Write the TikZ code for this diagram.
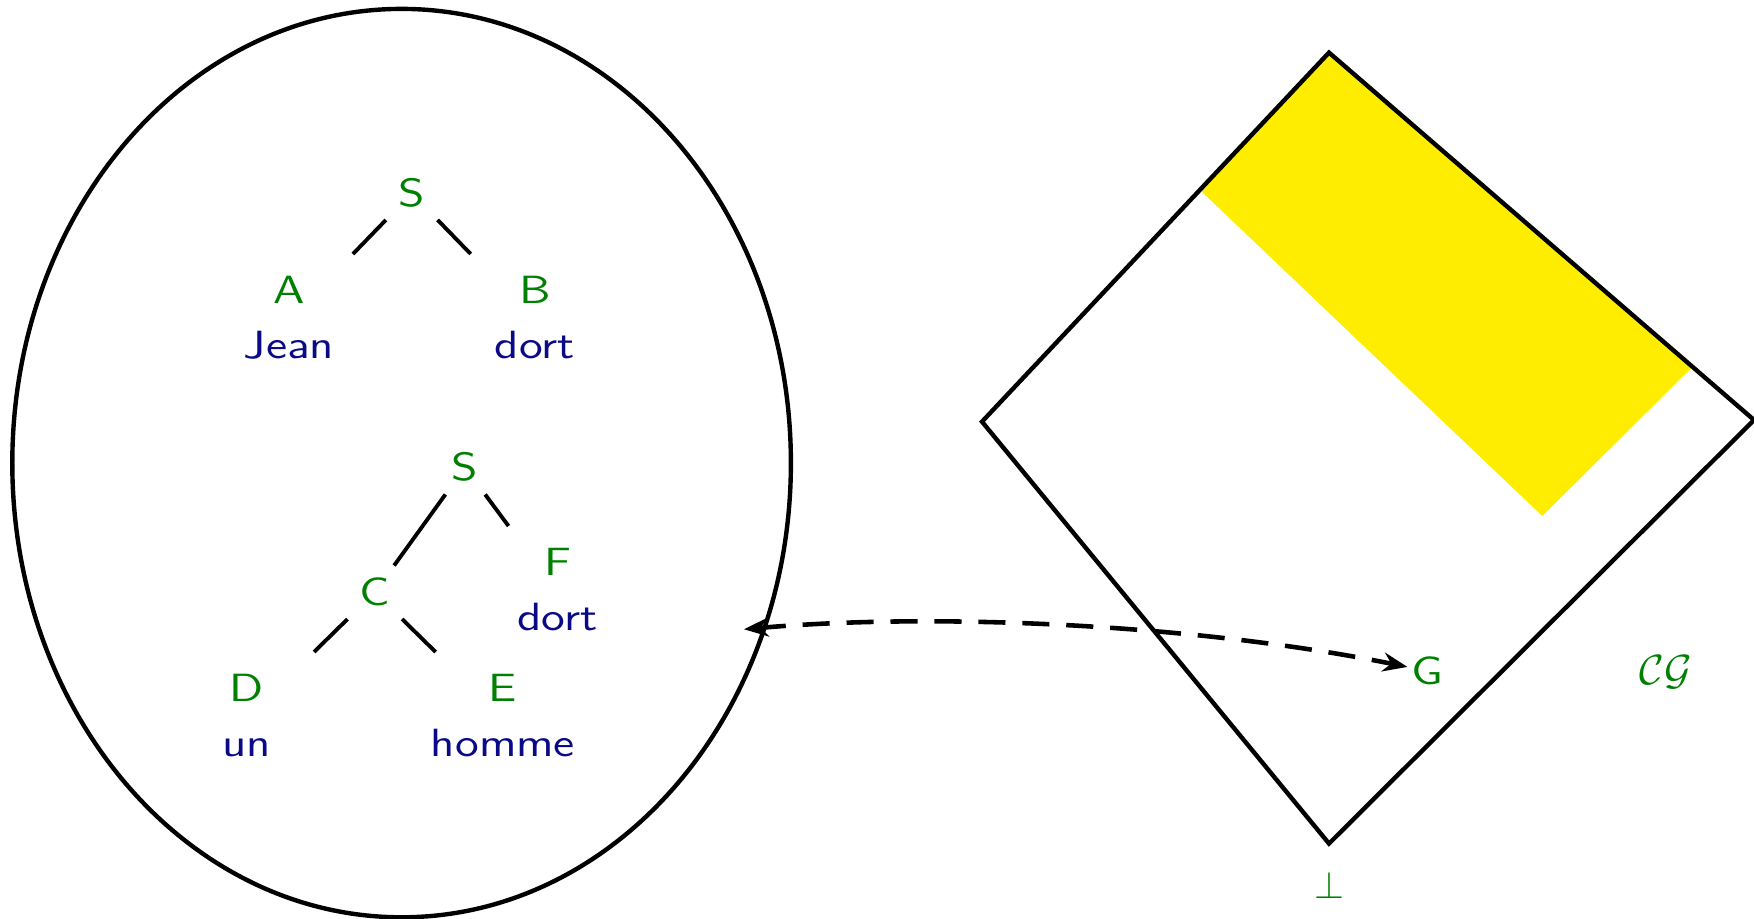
\documentclass[tikz,border=0pt]{standalone}
\usepackage{graphicx}
\usetikzlibrary{arrows.meta}
\definecolor{tgreen}{RGB}{0,128,0}
\definecolor{tblue}{RGB}{10,10,135}
\definecolor{tyellow}{RGB}{255,237,0}
\newcommand\wx[1]{\scalebox{1.23}[1]{#1}}
\newcommand\tfont{\fontsize{11.2pt}{15.4pt}\selectfont\sffamily}
\newcommand\topstrut{\rule{0pt}{10.6pt}}
\newcommand\botstrut{\rule[-4.4pt]{0pt}{0pt}}
\begin{document}
\begin{tikzpicture}[x=0.01cm, y=-0.01cm,
  lab/.style={font=\tfont, text=tgreen, inner sep=3.41pt},
  pair/.style={font=\tfont, align=center, inner sep=3.41pt, minimum width=45pt, anchor=north},
  branch/.style={line width=1.1pt},
  frame/.style={line width=1.25pt, line join=miter},
  link/.style={line width=1.3pt, dash pattern=on 7.7pt off 4.8pt,
    {Stealth[length=7pt,width=5.4pt,inset=2.3pt]}-{Stealth[length=7pt,width=5.4pt,inset=2.3pt]}}
]
\useasboundingbox (0,0) rectangle (1754,919);

% container ellipse
\draw[frame] (401.6,463.1) ellipse [x radius=389.3, y radius=454.2];

% first tree
\node[lab] (s1) at (411.7,193.3) {\wx{S}};
\node[pair] (na) at (289,254) {{\color{tgreen}\topstrut\wx{A}}\\{\color{tblue}\wx{Jean}\botstrut}};
\node[pair] (nb) at (535,254) {{\color{tgreen}\topstrut\wx{B}}\\{\color{tblue}\wx{dort}\botstrut}};
\draw[branch] (s1) -- (na);
\draw[branch] (s1) -- (nb);

% second tree
\node[lab] (s2) at (465,467.3) {\wx{S}};
\node[lab] (c) at (374.8,592.3) {\wx{C}};
\node[pair] (nf) at (557.5,526) {{\color{tgreen}\topstrut\wx{F}}\\{\color{tblue}\wx{dort}\botstrut}};
\node[pair] (nd) at (246.7,652) {{\color{tgreen}\topstrut\wx{D}}\\{\color{tblue}\wx{un}\botstrut}};
\node[pair] (ne) at (503,652) {{\color{tgreen}\topstrut\wx{E}}\\{\color{tblue}\wx{homme}\botstrut}};
\draw[branch] (s2) -- (c);
\draw[branch] (s2) -- (nf);
\draw[branch] (c) -- (nd);
\draw[branch] (c) -- (ne);

% lattice diamond
\coordinate (dt) at (1329,52.6);
\coordinate (dl) at (982,421.7);
\coordinate (db) at (1329,843.6);
\coordinate (dr) at (1754,420);
\fill[tyellow] (1329,50) -- (1201.7,191.7) -- (1542.3,516) -- (1693.3,366) -- cycle;
\draw[frame] (dt) -- (dl) -- (db) -- (dr) -- cycle;

\node[lab, inner sep=1pt] (g) at (1427.5,671) {\wx{G}};
\node[lab] (bot) at (1329,885.5) {$\perp$};
\node[lab, font=\fontsize{12.3pt}{15pt}\selectfont] (cg) at (1666,672.5) {$\mathcal{C}\mathcal{G}$};

% dashed two-headed link
\coordinate (lt) at (744,629.3);
\draw[link] (lt) .. controls (940,612) and (1200,625) .. (g);
\end{tikzpicture}
\end{document}
